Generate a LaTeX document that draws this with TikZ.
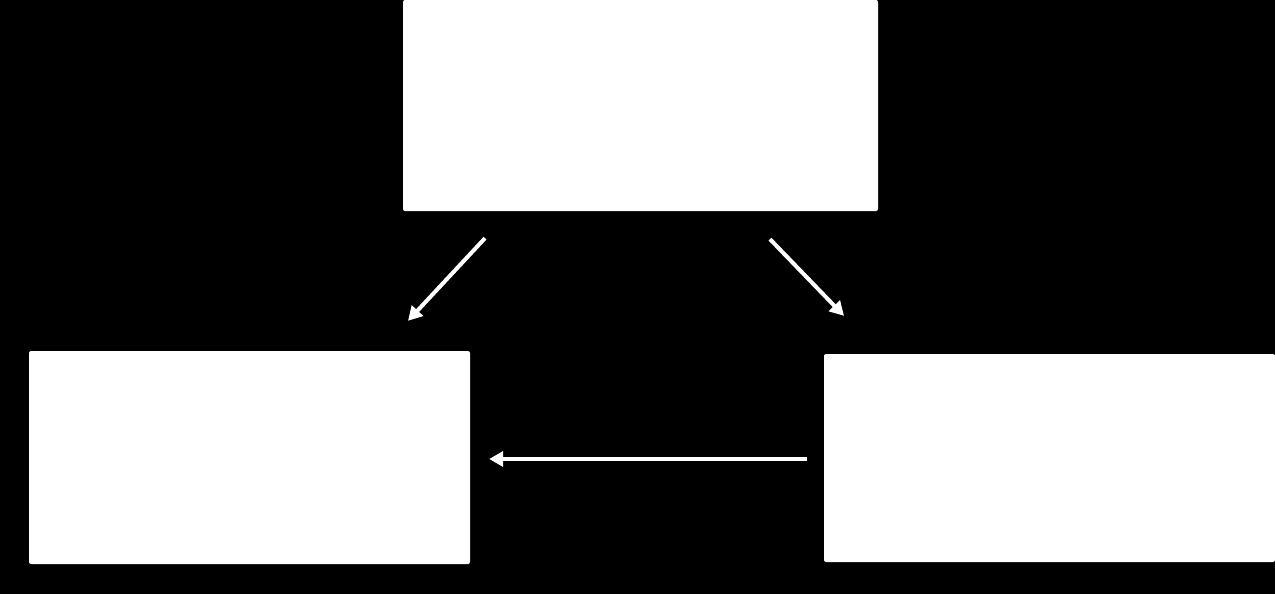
\documentclass[tikz,border=0pt]{standalone}
\usetikzlibrary{arrows.meta}
\begin{document}
\begin{tikzpicture}[x=1pt,y=-1pt,
  panel/.style={fill=white,draw=none,rounded corners=2pt,inner sep=0pt},
  arr/.style={draw=white,line width=4pt,-{Triangle[length=14pt,width=15pt]}}]
\fill[black] (0,0) rectangle (1275,594);
\useasboundingbox (0,0) rectangle (1275,594);
\node[panel,minimum width=475pt,minimum height=211pt] (top) at (640.5,105.5) {};
\node[panel,minimum width=441pt,minimum height=213pt] (left) at (249.5,457.5) {};
\node[panel,minimum width=451pt,minimum height=208pt] (right) at (1049.5,458) {};
\draw[arr] ([xshift=-155.5pt,yshift=-27pt]top.south) -- ([xshift=158.5pt,yshift=30pt]left.north);
\draw[arr] ([xshift=129.5pt,yshift=-28pt]top.south) -- ([xshift=-205.5pt,yshift=38pt]right.north);
\draw[arr] ([xshift=-17pt,yshift=-1pt]right.west) -- ([xshift=19pt,yshift=-1.5pt]left.east);
\end{tikzpicture}
\end{document}
